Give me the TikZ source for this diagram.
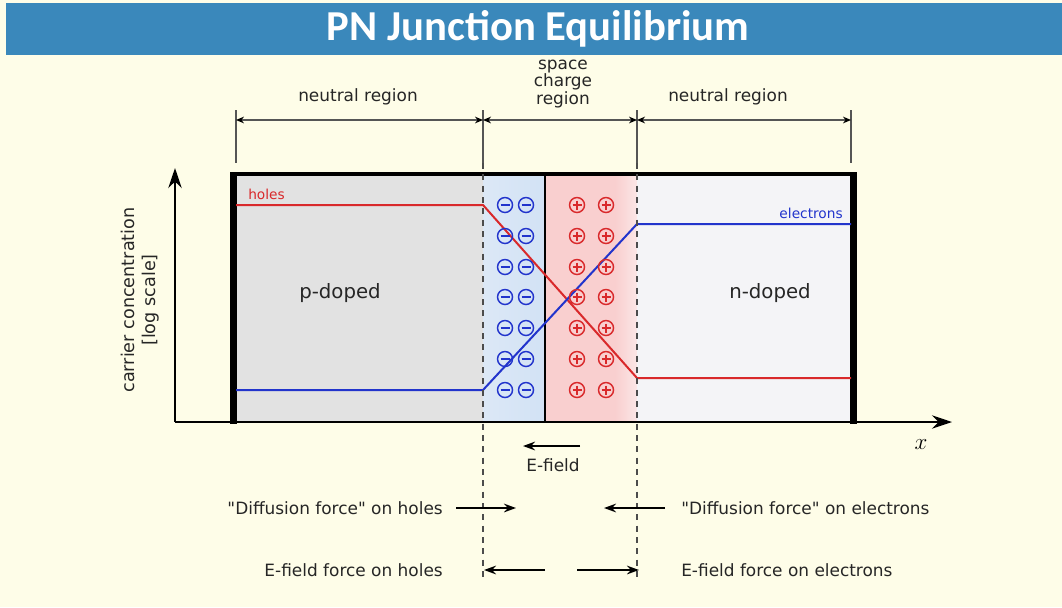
\documentclass[tikz,border=0pt]{standalone}
\usepackage{fontspec}
\setmainfont{DejaVu Sans}
\newfontfamily\titlefont{Carlito}
\usetikzlibrary{arrows.meta}
\definecolor{bg}{HTML}{FEFDE8}
\definecolor{titlebar}{HTML}{3A88BB}
\definecolor{pgray}{HTML}{E2E2E2}
\definecolor{ngray}{HTML}{F4F4F7}
\definecolor{blueA}{HTML}{DCE8F6}
\definecolor{blueB}{HTML}{D2E2F5}
\definecolor{redA}{HTML}{F9CFCF}
\definecolor{redB}{HTML}{FBE6E6}
\definecolor{holecol}{HTML}{D9292B}
\definecolor{eleccol}{HTML}{2234CC}
\definecolor{dimgray}{HTML}{555555}
\tikzset{
  txt/.style={font=\fontsize{12.7}{15}\selectfont, text=black!85, inner sep=0pt},
  big/.style={font=\fontsize{14.8}{17}\selectfont, text=black!85, inner sep=0pt},
  small/.style={font=\fontsize{10.3}{12}\selectfont, inner sep=0pt},
  dimline/.style={draw=dimgray, line width=1.1pt, {Stealth[length=6pt,width=5pt,black]}-{Stealth[length=6pt,width=5pt,black]}},
  extline/.style={draw=dimgray, line width=1pt},
  dashline/.style={draw=black!70, line width=1pt, dash pattern=on 4.5pt off 4pt},
  force/.style={draw=black, line width=1.4pt, -{Stealth[length=9pt,width=6.5pt]}},
  axis/.style={draw=black, line width=2.1pt, -{Stealth[length=15pt,width=10pt]}},
  minuscharge/.style={draw=eleccol, line width=1.1pt},
  pluscharge/.style={draw=holecol, line width=1.1pt},
}
\begin{document}
\begin{tikzpicture}[x=0.75pt,y=-0.75pt]
\useasboundingbox (0,0) rectangle (1062,607);
\fill[bg] (0,0) rectangle (1062,607);
\fill[titlebar] (6,3) rectangle (1062,55);
\node[text=white, font=\titlefont\bfseries\fontsize{32}{34}\selectfont, inner sep=0pt] (title) at (538,29) {PN Junction Equilibrium};

% regions
\fill[pgray] (236,174) rectangle (483,422);
\shade[left color=blueA, right color=blueB] (483,174) rectangle (545,422);
\fill[redA] (545,174) rectangle (615,422);
\shade[left color=redA, right color=redB] (615,174) rectangle (637,422);
\fill[ngray] (637,174) rectangle (851,422);

% box border
\draw[line width=2.4pt] (230,174) -- (857,174);
\fill[black] (230,172) rectangle (237,424);
\fill[black] (850,172) rectangle (857,424);
\draw[line width=1.4pt] (545,174) -- (545,422);

% carrier curves
\draw[holecol, line width=1.5pt] (236,205) -- (483,205) -- (637,378) -- (851,378);
\draw[eleccol, line width=1.5pt] (236,390) -- (483,390) -- (637,224) -- (851,224);
\node[small, text=holecol, anchor=west] (holes) at (248,194) {holes};
\node[small, text=eleccol, anchor=east] (electrons) at (843,213) {electrons};

% charges
\foreach \yy in {205,236,267,297,328,359,390}{
  \foreach \xx in {505,526}{
    \draw[minuscharge] (\xx,\yy) circle[radius=7.5];
    \draw[minuscharge] (\xx-4.5,\yy) -- (\xx+4.5,\yy);
  }
  \foreach \xx in {577,606}{
    \draw[pluscharge] (\xx,\yy) circle[radius=7.5];
    \draw[pluscharge] (\xx-4.5,\yy) -- (\xx+4.5,\yy) (\xx,\yy-4.5) -- (\xx,\yy+4.5);
  }
}

% axes
\coordinate (origin) at (175,422);
\coordinate (ytip) at (175,168);
\coordinate (xtip) at (952,422);
\draw[axis] (origin) -- (ytip);
\draw[axis] (origin) -- (xtip);
\node[font=\fontsize{17}{18}\selectfont, inner sep=0pt] (xlab) at (921,445) {$x$};
\node[font=\fontsize{13.2}{16}\selectfont, text=black!85, inner sep=0pt, rotate=90, align=center] (ylab) at (140,300) {carrier concentration\\{[log scale]}};

% region labels
\node[big] (pdoped) at (340,293) {p-doped};
\node[big] (ndoped) at (770,293) {n-doped};

% dimension lines
\coordinate (e1) at (236,120); \coordinate (e2) at (483,120);
\coordinate (e3) at (637,120); \coordinate (e4) at (851,120);
\foreach \xx in {236,483,637,851}{ \draw[extline] (\xx,110) -- (\xx,163); }
\draw[dimline] (e1) -- (e2);
\draw[dimline] (e2) -- (e3);
\draw[dimline] (e3) -- (e4);
\node[txt] (nr1) at (358,97) {neutral region};
\node[txt, align=center, font=\fontsize{12.7}{12.9}\selectfont] (scr) at (563,84) {space\\charge\\region};
\node[txt] (nr2) at (728,97) {neutral region};

% dashed boundaries
\draw[dashline] (483,163) -- (483,582);
\draw[dashline] (637,163) -- (637,582);

% E-field
\coordinate (ef1) at (580,446); \coordinate (ef2) at (523,446);
\draw[force] (ef1) -- (ef2);
\node[txt] (eflab) at (553,465) {E-field};

% forces
\node[txt, anchor=east] (dh) at (443,508) {\textquotedbl Diffusion force\textquotedbl{} on holes};
\coordinate (dh2) at (516,508);
\draw[force] ([xshift=10]dh.east) -- (dh2);
\node[txt, anchor=west] (de) at (681,508) {\textquotedbl Diffusion force\textquotedbl{} on electrons};
\coordinate (de2) at (604,508);
\draw[force] ([xshift=-12]de.west) -- (de2);
\node[txt, anchor=east] (eh) at (443,570) {E-field force on holes};
\coordinate (eh1) at (545,570); \coordinate (eh2) at (484,570);
\draw[force] (eh1) -- (eh2);
\node[txt, anchor=west] (ee) at (681,570) {E-field force on electrons};
\coordinate (ee1) at (577,570); \coordinate (ee2) at (639,570);
\draw[force] (ee1) -- (ee2);
\end{tikzpicture}
\end{document}
